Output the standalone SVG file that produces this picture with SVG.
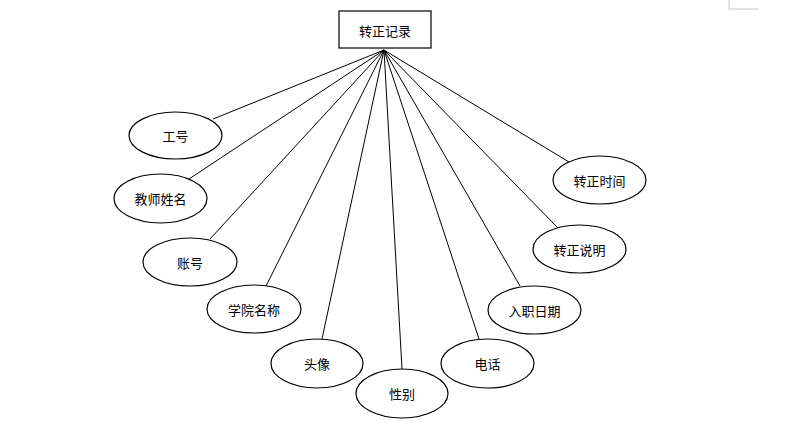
<svg xmlns="http://www.w3.org/2000/svg" width="796" height="424" viewBox="0 0 796 424">
<style>
.n ellipse,.n rect{fill:#fff;stroke:#000;stroke-width:1.2}
.n text{font-family:"Noto Sans CJK SC","Liberation Sans",sans-serif;font-size:13px;text-anchor:middle;dominant-baseline:central;fill:#000}
#connectors line{stroke:#000;stroke-width:1}
</style>
<rect width="796" height="424" fill="#fff"/>
<path d="M729 0V9H759" fill="none" stroke="#c8c8c8" stroke-width="1"/>
<g id="connectors">
<line x1="384" y1="50" x2="213" y2="119"/>
<line x1="384" y1="50" x2="189" y2="179"/>
<line x1="384" y1="50" x2="210" y2="239"/>
<line x1="384" y1="50" x2="266" y2="286"/>
<line x1="384" y1="50" x2="322" y2="339"/>
<line x1="384" y1="50" x2="402" y2="369"/>
<line x1="384" y1="50" x2="479" y2="339"/>
<line x1="384" y1="50" x2="520" y2="286"/>
<line x1="384" y1="50" x2="558" y2="228"/>
<line x1="384" y1="50" x2="569" y2="162"/>
</g>
<g id="main" class="n"><rect x="339" y="11" width="92" height="37"/><text x="385" y="30">转正记录</text></g>
<g id="gonghao" class="n"><ellipse cx="175.5" cy="135.5" rx="46.5" ry="23.5"/><text x="175.5" y="135.5">工号</text></g>
<g id="jiaoshi" class="n"><ellipse cx="160.5" cy="198.5" rx="46.5" ry="24.5"/><text x="160.5" y="198.5">教师姓名</text></g>
<g id="zhanghao" class="n"><ellipse cx="190" cy="262" rx="47" ry="24"/><text x="190" y="262">账号</text></g>
<g id="xueyuan" class="n"><ellipse cx="254" cy="309" rx="47" ry="24"/><text x="254" y="309">学院名称</text></g>
<g id="touxiang" class="n"><ellipse cx="317" cy="363.5" rx="46" ry="24.5"/><text x="317" y="363.5">头像</text></g>
<g id="xingbie" class="n"><ellipse cx="402" cy="393.5" rx="46" ry="24.5"/><text x="402" y="393.5">性别</text></g>
<g id="dianhua" class="n"><ellipse cx="487.5" cy="363.5" rx="46.5" ry="24.5"/><text x="487.5" y="363.5">电话</text></g>
<g id="ruzhi" class="n"><ellipse cx="534.5" cy="310" rx="46.5" ry="24"/><text x="534.5" y="310">入职日期</text></g>
<g id="shuoming" class="n"><ellipse cx="579.5" cy="249" rx="46.5" ry="24"/><text x="579.5" y="249">转正说明</text></g>
<g id="shijian" class="n"><ellipse cx="599.5" cy="180" rx="46.5" ry="24"/><text x="599.5" y="180">转正时间</text></g>
</svg>
